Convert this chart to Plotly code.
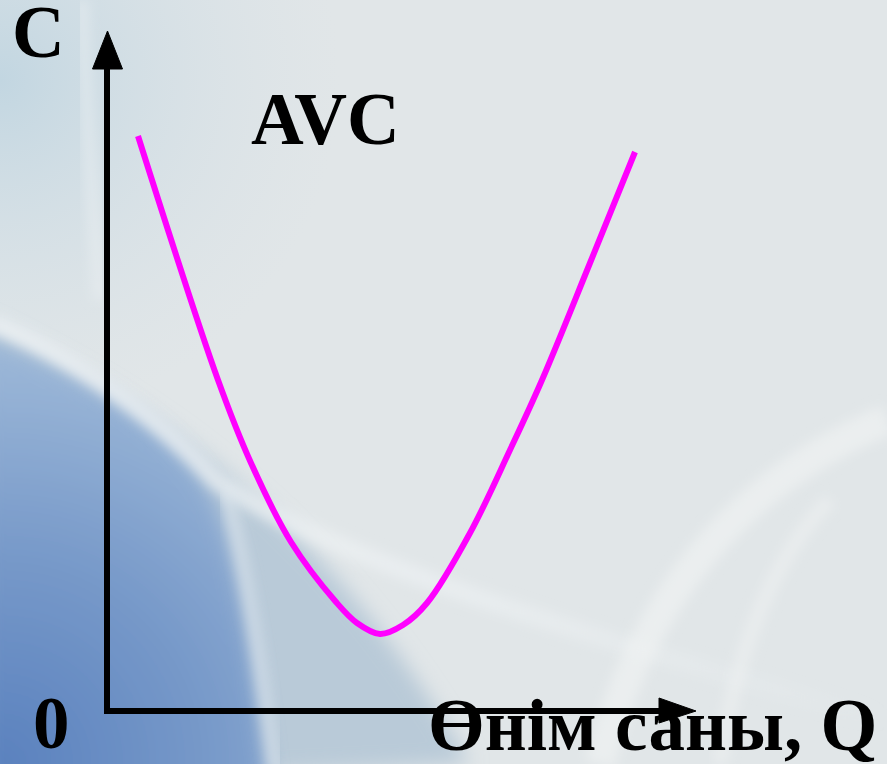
import base64
import plotly.graph_objects as go

# ---- data (Q = output quantity, AVC = average variable cost) ----
q_values = [31, 111, 144, 184, 229, 250, 273, 296, 320, 363, 403, 435, 483, 528]
avc_values = [575, 331, 248, 169, 109, 88, 77, 86, 108, 178, 261, 331, 448, 559]

curve_label = "AVC"
y_label = "C"
x_label = "Өнім саны, Q"
origin_label = "0"

# ---- background (decorative slide gradient) ----
W, H = 887, 764
svg = f'''<svg xmlns="http://www.w3.org/2000/svg" width="{W}" height="{H}" viewBox="0 0 {W} {H}">
<defs>
 <radialGradient id="blue" cx="0" cy="{H}" r="520" gradientUnits="userSpaceOnUse">
  <stop offset="0" stop-color="#5a81be" stop-opacity="1"/>
  <stop offset="0.4" stop-color="#7799c9" stop-opacity="1"/>
  <stop offset="0.75" stop-color="#98b4d6" stop-opacity="1"/>
  <stop offset="1" stop-color="#aac2db" stop-opacity="1"/>
 </radialGradient>
 <radialGradient id="tl" cx="0" cy="80" r="340" gradientUnits="userSpaceOnUse">
  <stop offset="0" stop-color="#c2d6e1" stop-opacity="1"/>
  <stop offset="1" stop-color="#d6e0e6" stop-opacity="0"/>
 </radialGradient>
 <linearGradient id="streak" x1="0" y1="0" x2="887" y2="0" gradientUnits="userSpaceOnUse">
  <stop offset="0" stop-color="#eef2f4" stop-opacity="0.8"/>
  <stop offset="0.5" stop-color="#eef2f4" stop-opacity="0.6"/>
  <stop offset="1" stop-color="#eef2f4" stop-opacity="0"/>
 </linearGradient>
 <filter id="b1"><feGaussianBlur stdDeviation="10"/></filter>
 <filter id="b2"><feGaussianBlur stdDeviation="6"/></filter>
</defs>
<rect width="{W}" height="{H}" fill="#e1e6e8"/>
<rect width="{W}" height="{H}" fill="url(#tl)"/>
<path d="M-20,320 C150,400 330,520 470,764 L-20,790 Z" fill="#b9cad8" filter="url(#b1)"/>
<path d="M-20,335 C80,370 180,430 215,500 C240,560 255,660 270,790 L-20,790 Z" fill="url(#blue)" filter="url(#b1)"/>
<path d="M-10,322 C80,360 160,420 215,480 C320,550 520,620 887,720" stroke="url(#streak)" stroke-width="18" fill="none" filter="url(#b2)"/>
<path d="M225,490 C245,560 260,660 275,770" stroke="#dfe8ee" stroke-width="14" fill="none" stroke-opacity="0.6" filter="url(#b2)"/>
<path d="M82,0 C86,100 92,200 100,300" stroke="#eef2f4" stroke-width="14" fill="none" stroke-opacity="0.45" filter="url(#b2)"/>
<path d="M600,764 C640,600 740,480 887,420" stroke="#f1f3f4" stroke-width="30" fill="none" stroke-opacity="0.6" filter="url(#b2)"/>
<path d="M720,764 C740,620 790,540 830,500" stroke="#f1f3f4" stroke-width="14" fill="none" stroke-opacity="0.5" filter="url(#b2)"/>
</svg>'''
bg_src = "data:image/svg+xml;base64," + base64.b64encode(svg.encode("utf-8")).decode("ascii")

fig = go.Figure()
fig.add_trace(go.Scatter(
    x=q_values, y=avc_values, mode="lines",
    line=dict(color="#ff00ff", width=6, shape="spline", smoothing=1.0),
    hoverinfo="skip", showlegend=False,
))

font_main = dict(family="Liberation Serif, Times New Roman, serif", size=73, color="#000000")

# axes with arrowheads
shapes = [
    dict(type="line", x0=0, y0=-3, x1=0, y1=645, line=dict(color="black", width=6)),
    dict(type="path", path="M -14.5,642 L 15.5,642 L 0.5,680 Z", fillcolor="black", line=dict(color="black", width=1)),
    dict(type="line", x0=-3, y0=0, x1=555, y1=0, line=dict(color="black", width=6)),
    dict(type="path", path="M 552,13 L 552,-12 L 589,0 Z", fillcolor="black", line=dict(color="black", width=1)),
]

annotations = [
    dict(x=-69, y=679, text=f"<b>{y_label}</b>", showarrow=False, font=font_main, xanchor="center", yanchor="middle"),
    dict(x=218, y=592, text=f"<b>{curve_label}</b>", showarrow=False, font=font_main, xanchor="center", yanchor="middle"),
    dict(x=-56, y=-12, text=f"<b>{origin_label}</b>", showarrow=False, font=font_main, xanchor="center", yanchor="middle"),
    dict(x=545, y=-14, text=f"<b>{x_label}</b>", showarrow=False, font=font_main, xanchor="center", yanchor="middle"),
]

fig.update_layout(
    width=W, height=H,
    margin=dict(l=0, r=0, t=0, b=0),
    paper_bgcolor="#e1e6e8", plot_bgcolor="rgba(0,0,0,0)",
    xaxis=dict(range=[-107, 780], visible=False, fixedrange=True),
    yaxis=dict(range=[-53, 711], visible=False, fixedrange=True),
    shapes=shapes,
    annotations=annotations,
    images=[dict(source=bg_src, xref="paper", yref="paper", x=0, y=1, sizex=1, sizey=1,
                 sizing="stretch", xanchor="left", yanchor="top", layer="below")],
    showlegend=False,
)

fig.write_html("out.html", config={"displayModeBar": False},
               post_script="document.body.style.margin='0';document.body.style.padding='0';document.body.style.overflow='hidden';")
